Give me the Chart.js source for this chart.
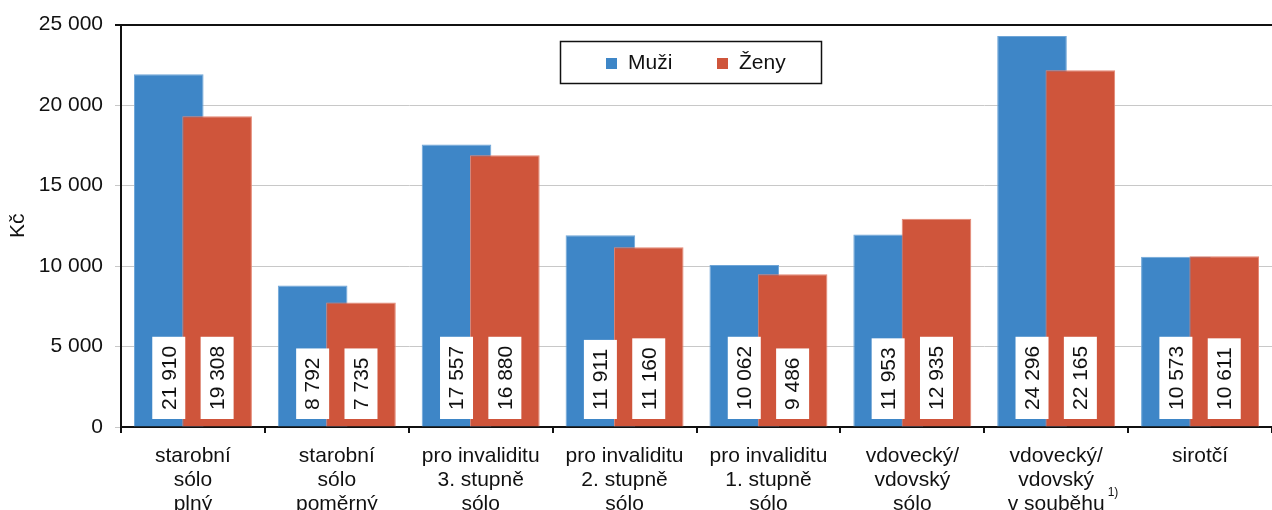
<!DOCTYPE html>
<html>
<head>
<meta charset="utf-8">
<script src="https://cdn.jsdelivr.net/npm/chart.js@4/dist/chart.umd.min.js"></script>
<style>
  html, body { margin: 0; padding: 0; background: #fff; overflow: hidden; }
  #wrap { width: 1272px; height: 510px; }
  canvas { display: block; }
</style>
</head>
<body>
<div id="wrap"><canvas id="c" width="1272" height="510"></canvas></div>
<script>
const categories = [
  ["starobní", "sólo", "plný"],
  ["starobní", "sólo", "poměrný"],
  ["pro invaliditu", "3. stupně", "sólo"],
  ["pro invaliditu", "2. stupně", "sólo"],
  ["pro invaliditu", "1. stupně", "sólo"],
  ["vdovecký/", "vdovský", "sólo"],
  ["vdovecký/", "vdovský", "v souběhu"],
  ["sirotčí"]
];
const footnoteCategoryIndex = 6;
const footnoteText = "1)";
const seriesNames = ["Muži", "Ženy"];
const muzi = [21910, 8792, 17557, 11911, 10062, 11953, 24296, 10573];
const zeny = [19308, 7735, 16880, 11160, 9486, 12935, 22165, 10611];
const yAxisTitle = "Kč";
const yMin = 0, yMax = 25000, yStep = 5000;

const FONT = "'Liberation Sans', Arial, Helvetica, sans-serif";
const FS = 21;
const BLUE = "rgb(62,134,199)";
const RED = "rgb(207,85,59)";

function fmt(v) {
  return String(Math.round(v)).replace(/\B(?=(\d{3})+(?!\d))/g, " ");
}

// draw datasets in index order so that the second series overlaps the first
const drawOrder = {
  id: "drawOrder",
  beforeDatasetDraw() { return false; },
  afterDatasetsDraw(chart) {
    for (let i = 0; i < chart.data.datasets.length; i++) {
      const meta = chart.getDatasetMeta(i);
      if (meta.visible !== false) meta.controller.draw();
    }
  }
};

const valueLabels = {
  id: "valueLabels",
  afterDatasetsDraw(chart) {
    const ctx = chart.ctx;
    const yBottom = chart.scales.y.getPixelForValue(0);
    ctx.save();
    ctx.font = FS + "px " + FONT;
    chart.data.datasets.forEach((ds, di) => {
      const meta = chart.getDatasetMeta(di);
      meta.data.forEach((bar, i) => {
        const txt = fmt(ds.data[i]);
        const tw = ctx.measureText(txt).width;
        const boxW = 33, padL = 9;
        const boxH = tw + padL * 2;
        const bottom = yBottom - 8;
        ctx.fillStyle = "#fff";
        ctx.fillRect(bar.x - boxW / 2, bottom - boxH, boxW, boxH);
        ctx.save();
        ctx.translate(bar.x, bottom - padL);
        ctx.rotate(-Math.PI / 2);
        ctx.fillStyle = "#111";
        ctx.textAlign = "left";
        ctx.textBaseline = "middle";
        ctx.fillText(txt, 0, 1);
        ctx.restore();
      });
    });
    ctx.restore();
  }
};

const boxLegend = {
  id: "boxLegend",
  afterDraw(chart) {
    const ctx = chart.ctx;
    ctx.save();
    ctx.strokeStyle = "#111";
    ctx.lineWidth = 1.5;
    ctx.fillStyle = "#fff";
    ctx.fillRect(560, 41, 262, 43);
    ctx.strokeRect(560.5, 41.5, 261, 42);
    ctx.font = FS + "px " + FONT;
    ctx.textBaseline = "middle";
    const items = [{x: 606}, {x: 717}];
    chart.data.datasets.forEach((ds, i) => {
      ctx.fillStyle = ds.backgroundColor;
      ctx.fillRect(items[i].x, 58, 11, 11);
      ctx.fillStyle = "#111";
      ctx.fillText(ds.label, items[i].x + 22, 63);
    });
    ctx.restore();
  }
};

const footnote = {
  id: "footnote",
  afterDraw(chart) {
    const ctx = chart.ctx;
    const xs = chart.scales.x;
    const lines = categories[footnoteCategoryIndex];
    ctx.save();
    ctx.font = FS + "px " + FONT;
    const w = ctx.measureText(lines[lines.length - 1]).width;
    const cx = xs.getPixelForValue(footnoteCategoryIndex);
    ctx.font = "12px " + FONT;
    ctx.fillStyle = "#111";
    ctx.textBaseline = "alphabetic";
    ctx.fillText(footnoteText, cx + w / 2 + 3, 496);
    ctx.restore();
  }
};

new Chart(document.getElementById("c"), {
  type: "bar",
  data: {
    labels: categories,
    datasets: [
      { label: seriesNames[0], data: muzi, backgroundColor: BLUE, borderColor: "rgb(110,165,215)", borderWidth: 1, borderSkipped: "bottom" },
      { label: seriesNames[1], data: zeny, backgroundColor: RED, borderColor: "rgb(228,135,115)", borderWidth: 1, borderSkipped: "bottom" }
    ]
  },
  options: {
    responsive: false,
    animation: false,
    devicePixelRatio: 1,
    categoryPercentage: 0.672,
    barPercentage: 1.44,
    layout: { padding: { top: 24, right: 0, left: 0, bottom: 0 } },
    plugins: { legend: { display: false }, tooltip: { enabled: false } },
    scales: {
      x: {
        offset: true,
        grid: { offset: true, drawOnChartArea: false, drawTicks: true, tickLength: 6, color: "#111", lineWidth: 2 },
        border: { display: true, color: "#111", width: 2 },
        ticks: { color: "#111", font: { family: FONT, size: FS, lineHeight: 1.14 }, padding: 11, maxRotation: 0, autoSkip: false },
        afterFit(scale) { scale.height = 83; }
      },
      y: {
        min: yMin, max: yMax,
        ticks: { stepSize: yStep, color: "#111", font: { family: FONT, size: FS }, padding: 12, callback: v => fmt(v) },
        grid: {
          tickLength: 6,
          color: c => (c.tick && (c.tick.value === yMax)) ? "#111" : "#c8c8c8",
          lineWidth: c => (c.tick && (c.tick.value === yMax)) ? 2 : 1
        },
        border: { display: true, color: "#111", width: 2 },
        title: { display: true, text: yAxisTitle, color: "#111", font: { family: FONT, size: FS }, padding: { top: 6, bottom: 4 } },
        afterFit(scale) { scale.width = 121; }
      }
    }
  },
  plugins: [drawOrder, valueLabels, boxLegend, footnote]
});
</script>
</body>
</html>
